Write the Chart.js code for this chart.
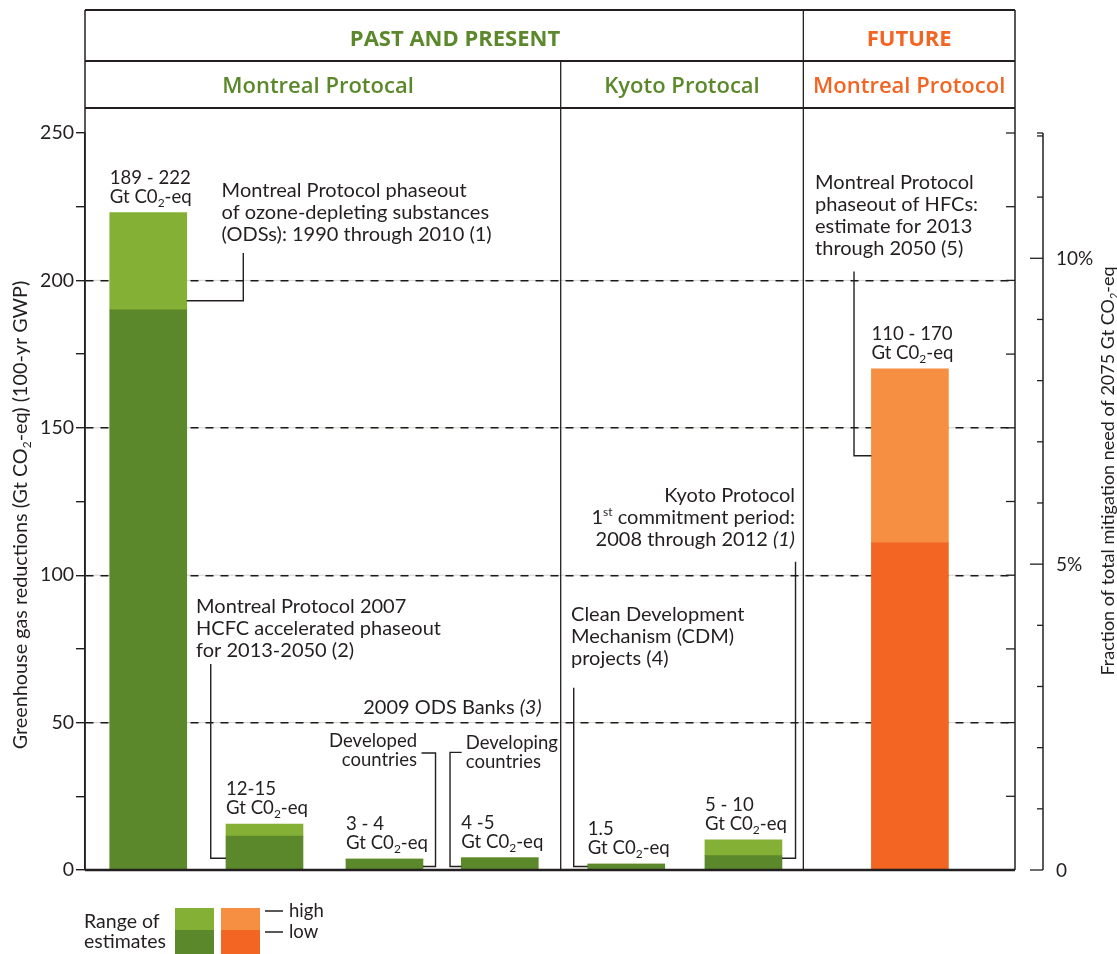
<!DOCTYPE html>
<html>
<head>
<meta charset="utf-8">
<script src="https://cdn.jsdelivr.net/npm/chart.js@4.4.1/dist/chart.umd.min.js"></script>
<style>
  html, body { margin: 0; padding: 0; background: #fff; }
</style>
</head>
<body>
<canvas id="chart" width="1117" height="954"></canvas>
<script>
// bar data (Gt CO2-eq)
const barNames = ["ODS phaseout 1990-2010", "HCFC accelerated phaseout", "ODS banks developed", "ODS banks developing", "CDM projects", "Kyoto 1st commitment", "HFC phaseout"];
const barSlots = [6.8, 19.3, 32.2, 44.6, 58.2, 70.8, 88.7];   // position along the x line (0-100)
const lowEstimates = [190, 11.5, 3.7, 4.1, 2.0, 4.9, 111];
const highEstimates = [223, 15.6, 3.7, 4.1, 2.0, 10.2, 170];
const rangeLabels = ["189 - 222", "12-15", "3 - 4", "4 -5", "1.5", "5 - 10", "110 - 170"];
const isFuture = [false, false, false, false, false, false, true];
const yTickLabels = [0, 50, 100, 150, 200, 250];
const pctTickLabels = [0, 5, 10];
const totalNeed = 2075;   // Gt CO2-eq, right axis reference
const groupSplits = [51.15, 77.24];
const legendTitle = ["Range of", "estimates"];
const legendLevels = ["high", "low"];

const greenLow = "#5b882b", greenHigh = "#85b036";
const orangeLow = "#f26522", orangeHigh = "#f68f42";
const ink = "#231f20";
const FONT = "Lato";

// annotations, anchored in data units
const notes = [
  { lines: ["Montreal Protocol phaseout", "of ozone-depleting substances", "(ODSs): 1990 through 2010 (1)"], x: 14.69, y: 228.2, align: "left",
    leader: [{ bar: 0, side: "right", y: 193.1 }, { x: 17.02, y: 193.1 }, { x: 17.02, y: 209.3 }] },
  { lines: ["Montreal Protocol 2007", "HCFC accelerated phaseout", "for 2013-2050 (2)"], x: 11.94, y: 87.3, align: "left",
    leader: [{ bar: 1, side: "left", y: 4 }, { x: 13.52, y: 4 }, { x: 13.52, y: 69.9 }] },
  { lines: ["2009 ODS Banks *(3)*"], x: 49.1, y: 52.9, align: "right", leader: [] },
  { lines: ["Developed", "countries"], x: 35.7, y: 41.6, align: "right", size: 18.5, gap: 19,
    leader: [{ bar: 2, side: "right", y: 1.2 }, { x: 37.69, y: 1.2 }, { x: 37.69, y: 39.7 }, { x: 36.18, y: 39.7 }] },
  { lines: ["Developing", "countries"], x: 40.94, y: 41.2, align: "left", size: 18.5, gap: 19,
    leader: [{ bar: 3, side: "left", y: 1.2 }, { x: 39.25, y: 1.2 }, { x: 39.25, y: 39.9 }, { x: 40.5, y: 39.9 }] },
  { lines: ["Clean Development", "Mechanism (CDM)", "projects (4)"], x: 52.26, y: 84.3, align: "left",
    leader: [{ bar: 4, side: "left", y: 1.2 }, { x: 52.55, y: 1.2 }, { x: 52.55, y: 61.8 }] },
  { lines: ["Kyoto Protocol", "1^{st} commitment period:", "2008 through 2012 *(1)*"], x: 76.34, y: 125.0, align: "right",
    leader: [{ bar: 5, side: "right", y: 4 }, { x: 76.4, y: 4 }, { x: 76.4, y: 104.6 }] },
  { lines: ["Montreal Protocol", "phaseout of HFCs:", "estimate for 2013", "through 2050 (5)"], x: 78.5, y: 230.9, align: "left",
    leader: [{ bar: 6, side: "left", y: 140.5 }, { x: 82.69, y: 140.5 }, { x: 82.69, y: 203.0 }] }
];

// split "text_{2}" / "^{st}" / "*italic*" into pieces
function pieces(str) {
  const out = [];
  const re = /(_\{[^}]*\}|\^\{[^}]*\}|\*[^*]*\*)/g;
  let last = 0, m;
  while ((m = re.exec(str)) !== null) {
    if (m.index > last) out.push({ t: str.slice(last, m.index), k: "n" });
    const s = m[0];
    if (s[0] === "_") out.push({ t: s.slice(2, -1), k: "sub" });
    else if (s[0] === "^") out.push({ t: s.slice(2, -1), k: "sup" });
    else out.push({ t: s.slice(1, -1), k: "it" });
    last = m.index + s.length;
  }
  if (last < str.length) out.push({ t: str.slice(last), k: "n" });
  return out;
}

function fontFor(k, size) {
  if (k === "sub" || k === "sup") return Math.round(size * 0.62) + "px " + FONT;
  if (k === "it") return "italic " + size + "px " + FONT;
  return size + "px " + FONT;
}

function richText(ctx, str, x, y, align, size) {
  const ps = pieces(str);
  let w = 0;
  ps.forEach(p => { ctx.font = fontFor(p.k, size); p.w = ctx.measureText(p.t).width; w += p.w; });
  let cx = align === "right" ? x - w : align === "center" ? x - w / 2 : x;
  ctx.textAlign = "left";
  ctx.textBaseline = "alphabetic";
  ps.forEach(p => {
    ctx.font = fontFor(p.k, size);
    let dy = 0;
    if (p.k === "sub") dy = size * 0.22;
    if (p.k === "sup") dy = -size * 0.38;
    ctx.fillText(p.t, cx, y + dy);
    cx += p.w;
  });
}

function line(ctx, pts, width) {
  ctx.beginPath();
  ctx.lineWidth = width;
  pts.forEach((p, i) => i ? ctx.lineTo(p[0], p[1]) : ctx.moveTo(p[0], p[1]));
  ctx.stroke();
}

const decor = {
  id: "decor",
  beforeDraw(chart) {
    // pale line under the dashed grid
    const { ctx, chartArea: a, scales: { y } } = chart;
    ctx.save();
    ctx.strokeStyle = "rgba(205,205,195,0.9)";
    [50, 100, 150, 200].forEach(v => line(ctx, [[a.left, y.getPixelForValue(v)], [a.right, y.getPixelForValue(v)]], 1));
    ctx.restore();
  },
  afterDraw(chart) {
    const { ctx, chartArea: a, scales: { x, y, y2 } } = chart;
    const lowMeta = chart.getDatasetMeta(0);
    ctx.save();
    ctx.strokeStyle = ink;
    ctx.fillStyle = ink;

    // frame and header boxes
    const top = 10, row2 = 61, row3 = 108;
    const s1 = x.getPixelForValue(groupSplits[0]);
    const s2 = x.getPixelForValue(groupSplits[1]);
    line(ctx, [[a.left, top], [a.right, top]], 2.2);
    line(ctx, [[a.left, row2], [a.right, row2]], 2);
    line(ctx, [[a.left, row3], [a.right, row3]], 2.2);
    line(ctx, [[a.left, top], [a.left, a.bottom]], 1.5);
    line(ctx, [[a.right, top], [a.right, a.bottom]], 1.5);
    line(ctx, [[s1, row2], [s1, a.bottom]], 1.3);
    line(ctx, [[s2, top], [s2, a.bottom]], 1.3);
    line(ctx, [[a.left, a.bottom], [a.right, a.bottom]], 2.6);

    // inner ticks on the right frame
    for (let v = 0; v <= 250; v += 25) {
      const py = y.getPixelForValue(v);
      line(ctx, [[a.right - 9, py], [a.right, py]], 1.3);
    }

    // header text
    ctx.textAlign = "center";
    ctx.textBaseline = "alphabetic";
    ctx.font = "bold 22px 'Open Sans'";
    ctx.fillStyle = greenLow;
    ctx.fillText("PAST AND PRESENT", 455, 46);
    ctx.fillStyle = orangeLow;
    ctx.fillText("FUTURE", (s2 + a.right) / 2, 46);
    ctx.font = "600 22px 'Open Sans'";
    ctx.fillStyle = greenLow;
    ctx.fillText("Montreal Protocal", 318, 93);
    ctx.fillText("Kyoto Protocal", (s1 + s2) / 2, 93);
    ctx.fillStyle = orangeLow;
    ctx.fillText("Montreal Protocol", (s2 + a.right) / 2, 93);

    // bar range labels
    ctx.fillStyle = ink;
    lowMeta.data.forEach((el, i) => {
      const left = el.x - el.width / 2;
      const py = y.getPixelForValue(highEstimates[i]);
      richText(ctx, rangeLabels[i], left, py - 29, "left", 18.6);
      richText(ctx, "Gt C0_{2}-eq", left, py - 10, "left", 18.6);
    });

    // annotations and leaders
    notes.forEach(n => {
      const px = x.getPixelForValue(n.x);
      const py = y.getPixelForValue(n.y);
      n.lines.forEach((t, k) => richText(ctx, t, px, py + k * (n.gap || 22), n.align, n.size || 20));
      if (n.leader.length) {
        const pts = n.leader.map(p => {
          if (p.bar !== undefined) {
            const el = lowMeta.data[p.bar];
            return [p.side === "left" ? el.x - el.width / 2 : el.x + el.width / 2, y.getPixelForValue(p.y)];
          }
          return [x.getPixelForValue(p.x), y.getPixelForValue(p.y)];
        });
        line(ctx, pts, 1.4);
      }
    });

    // right axis: fraction of total need
    const ax = a.right + 28;
    line(ctx, [[ax, y2.getPixelForValue(0)], [ax, y2.getPixelForValue(y2.max)]], 1.5);
    line(ctx, [[ax - 6, y2.getPixelForValue(y2.max)], [ax, y2.getPixelForValue(y2.max)]], 1.3);
    for (let p = 0; p <= Math.floor(y2.max); p++) {
      const py = y2.getPixelForValue(p);
      const major = pctTickLabels.includes(p);
      line(ctx, [[ax - (major ? 13 : 6), py], [ax, py]], 1.3);
    }
    ctx.font = "19px " + FONT;
    ctx.textAlign = "left";
    ctx.textBaseline = "middle";
    pctTickLabels.forEach(p => ctx.fillText(p === 0 ? "0" : p + "%", ax + 13, y2.getPixelForValue(p) + 1));

    // axis titles
    ctx.save();
    ctx.translate(20, 515);
    ctx.rotate(-Math.PI / 2);
    richText(ctx, "Greenhouse gas reductions (Gt CO_{2}-eq) (100-yr GWP)", 0, 7, "center", 19.8);
    ctx.restore();
    ctx.save();
    ctx.translate(1108, 471);
    ctx.rotate(-Math.PI / 2);
    richText(ctx, "Fraction of total mitigation need of 2075 Gt CO_{2}-eq", 0, 6, "center", 18);
    ctx.restore();

    // legend
    const lx = a.left, ly = a.bottom;
    ctx.font = "19.5px " + FONT;
    ctx.textAlign = "left";
    ctx.textBaseline = "alphabetic";
    legendTitle.forEach((t, k) => ctx.fillText(t, lx - 1, ly + 58 + k * 20));
    [[greenHigh, greenLow], [orangeHigh, orangeLow]].forEach((c, k) => {
      const sx = lx + 90 + k * 46;
      ctx.fillStyle = c[0];
      ctx.fillRect(sx, ly + 38, 39, 22);
      ctx.fillStyle = c[1];
      ctx.fillRect(sx, ly + 60, 39, 24);
    });
    ctx.fillStyle = ink;
    legendLevels.forEach((t, k) => {
      const ty = ly + 41 + k * 21;
      line(ctx, [[lx + 180, ty], [lx + 198, ty]], 1.5);
      ctx.font = "18.5px " + FONT;
      ctx.fillText(t, lx + 204, ty + 6);
    });
    ctx.restore();
  }
};

new Chart(document.getElementById("chart"), {
  type: "bar",
  data: {
    datasets: [
      {
        label: "low",
        data: barSlots.map((s, i) => ({ x: s, y: lowEstimates[i] })),
        backgroundColor: isFuture.map(f => f ? orangeLow : greenLow),
        barThickness: 77,
        grouped: false
      },
      {
        label: "high",
        data: barSlots.map((s, i) => ({ x: s, y: [lowEstimates[i], highEstimates[i]] })),
        backgroundColor: isFuture.map(f => f ? orangeHigh : greenHigh),
        barThickness: 77,
        grouped: false
      }
    ]
  },
  options: {
    responsive: false,
    animation: false,
    layout: { padding: { left: 0, right: 102, top: 133, bottom: 84 } },
    plugins: { legend: { display: false }, tooltip: { enabled: false } },
    scales: {
      x: { type: "linear", min: 0, max: 100, display: false, offset: false },
      y: {
        min: 0,
        max: 250,
        afterFit: s => { s.width = 85; },
        afterBuildTicks: s => { s.ticks = []; for (let v = 0; v <= 250; v += 25) s.ticks.push({ value: v }); },
        ticks: {
          autoSkip: false,
          callback: v => yTickLabels.includes(v) ? String(v) : "",
          color: ink,
          font: { family: FONT, size: 19.5 },
          padding: 2
        },
        grid: {
          color: c => (c.tick && [50, 100, 150, 200].includes(c.tick.value)) ? "#1a1a1a" : "rgba(0,0,0,0)",
          tickColor: ink,
          tickLength: 9,
          lineWidth: 1.4
        },
        border: { display: true, color: ink, width: 1.5, dash: [8, 7] }
      },
      y2: { display: false, min: 0, max: 250 / totalNeed * 100 }
    }
  },
  plugins: [decor]
});
</script>
</body>
</html>
